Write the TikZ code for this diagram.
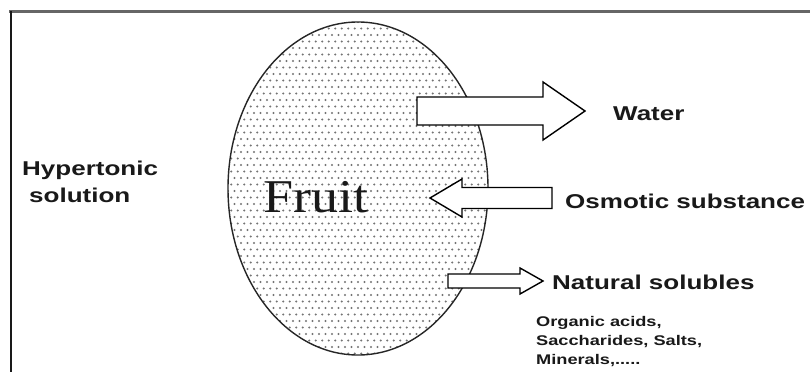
\documentclass[tikz,border=0pt]{standalone}
\usepackage{fontspec}
\newfontfamily\lab{Liberation Sans}[FakeStretch=1.3]
\newfontfamily\fruitfont{Liberation Serif}[FakeStretch=1.15]
\begin{document}
\begin{tikzpicture}[x=1pt,y=-1pt,
  lbl/.style={font=\lab\bfseries\fontsize{20}{24}\selectfont, anchor=base west, inner sep=0, text=black!90},
  smalllbl/.style={font=\lab\bfseries\fontsize{14}{17}\selectfont, anchor=base west, inner sep=0, text=black!90},
  flow/.style={draw=black, line width=1.4pt, fill=white, line join=miter},
  dot/.style={fill=black!55}]
\useasboundingbox (0,0) rectangle (810,372);
\fill[white] (0,0) rectangle (810,372);
% frame
\draw[line width=3pt, black!60] (9,11) -- (810,11);
\draw[line width=2.5pt, black!90] (11,11) -- (11,372);
% fruit
\begin{scope}
  \clip (358,188.5) ellipse [x radius=130, y radius=166.5];
  \foreach \r in {0,...,52} {
    \foreach \c in {0,...,42} {
      \fill[dot] ({228+\c*6.5+mod(\r,2)*3.25}, {22+\r*6.5}) circle[radius=1.1];
    }
  }
\end{scope}
\draw[line width=1.4pt, black!85] (358,188.5) ellipse [x radius=130, y radius=166.5];
\node[anchor=base west, inner sep=0, font=\fruitfont\fontsize{47}{50}\selectfont, text=black!90] (fruit) at (263,212) {Fruit};
% arrows
\draw[flow] (417,97) -- (543,97) -- (543,82) -- (585,111) -- (543,140) -- (543,125) -- (417,125) -- cycle;
\draw[flow] (552,187.5) -- (462,187.5) -- (462,179) -- (430,198) -- (462,217) -- (462,208.5) -- (552,208.5) -- cycle;
\draw[flow] (448,274) -- (520,274) -- (520,268) -- (543,281) -- (520,294) -- (520,288) -- (448,288) -- cycle;
% labels
\node[lbl] (hyp) at (22,175) {Hypertonic};
\node[lbl] (sol) at (29,202) {solution};
\node[lbl] (water) at (613,120) {Water};
\node[lbl] (osm) at (565,208) {Osmotic substance};
\node[lbl] (nat) at (552,289) {Natural solubles};
\node[smalllbl] (s1) at (536,326) {Organic acids,};
\node[smalllbl] (s2) at (536,345) {Saccharides, Salts,};
\node[smalllbl] (s3) at (536,364) {Minerals,.....};
\end{tikzpicture}
\end{document}
